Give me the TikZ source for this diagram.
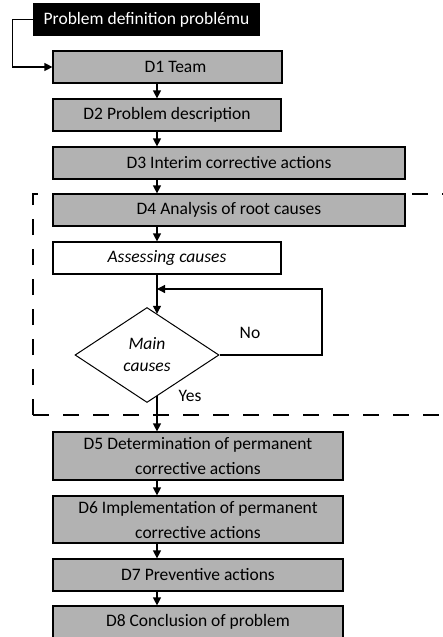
\documentclass[tikz,border=0pt]{standalone}
\usepackage{fontspec}
\setmainfont{Carlito}
\usepackage{xcolor}
\usepackage{tikz}
\usetikzlibrary{shapes.geometric,arrows.meta}
\definecolor{boxgray}{RGB}{178,178,178}
\newcommand\boxfont{\fontsize{17.5}{25}\selectfont}

\begin{document}
\begin{tikzpicture}[x=1pt,y=-1pt,font=\boxfont,
  stepbox/.style={draw,line width=1.2pt,fill=boxgray,inner sep=0pt,align=center,minimum height=32pt},
  decision/.style={draw,diamond,line width=1pt,fill=white,inner sep=0pt,align=center,font=\fontsize{17.5}{22}\selectfont\itshape},
  flow/.style={line width=1.2pt,-{Triangle[width=8pt,length=8pt]}}]
\clip (0,0) rectangle (443,637);
\coordinate (axis) at (157,0);
% dashed frame round D4
\draw[line width=1.2pt,dash pattern=on 16pt off 14pt] (33,415) -- (33,194) -- (470,194);
\draw[line width=1.2pt,dash pattern=on 16pt off 14pt] (33,415) -- (470,415);
\node[fill=black,text=white,minimum width=227pt,minimum height=33pt,inner sep=0pt] (def) at (146.5,19.5) {Problem definition problému};
\node[stepbox,minimum width=229pt] (d1) at (167.5,67) {\hspace*{16pt}D1 Team};
\node[stepbox,minimum width=228pt] (d2) at (167,115) {D2 Problem description};
\node[stepbox,minimum width=352pt] (d3) at (229,163) {D3 Interim corrective actions};
\node[stepbox,minimum width=352pt] (d4) at (229,210) {D4 Analysis of root causes};
\node[stepbox,fill=white,minimum width=228pt,font=\boxfont\itshape] (assess) at (167,258) {Assessing causes};
\node[decision,minimum width=144pt,minimum height=95pt] (dec) at (147,355) {Main\\causes};
\node[stepbox,minimum width=290pt,minimum height=48pt] (d5) at (198,456) {D5 Determination of permanent\\corrective actions};
\node[stepbox,minimum width=290pt,minimum height=47pt] (d6) at (198,519.5) {D6 Implementation of permanent\\corrective actions};
\node[stepbox,minimum width=290pt] (d7) at (198,575) {D7 Preventive actions};
\node[stepbox,minimum width=290pt] (d8) at (198,622) {D8 Conclusion of problem};
\node (no) at (250,333) {No};
\node (yes) at (190,396) {Yes};
\coordinate (back) at (322,289);

\draw[flow] (def.west) -- ++(-20,0) |- (d1.west);
\draw[flow] (d1.south -| axis) -- (d2.north -| axis);
\draw[flow] (d2.south -| axis) -- (d3.north -| axis);
\draw[flow] (d3.south -| axis) -- (d4.north -| axis);
\draw[flow] (d4.south -| axis) -- (assess.north -| axis);
\draw[flow] (assess.south -| axis) -- (dec.76 -| axis);
\draw[flow] (dec.east) -| (back) -- (back -| axis);
\draw[flow] (dec.-76 -| axis) -- (d5.north -| axis);
\draw[flow] (d5.south -| axis) -- (d6.north -| axis);
\draw[flow] (d6.south -| axis) -- (d7.north -| axis);
\draw[flow] (d7.south -| axis) -- (d8.north -| axis);
\end{tikzpicture}
\end{document}
